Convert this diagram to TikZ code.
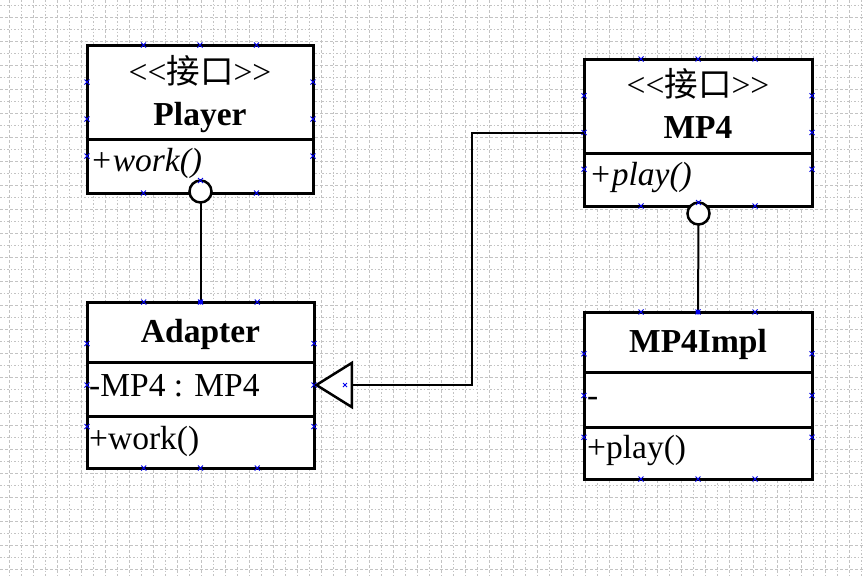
\documentclass[tikz,border=0pt]{standalone}
\usepackage{fontspec}
\setmainfont{Liberation Serif}
\newfontfamily\cjkfont{Noto Sans CJK SC}
\usetikzlibrary{arrows.meta,calc}
\definecolor{gridgray}{RGB}{195,195,195}
\definecolor{handleblue}{RGB}{0,0,235}

\begin{document}
\begin{tikzpicture}[x=1pt,y=-1pt,
  classbox/.style={draw, line width=3pt, fill=white, rectangle, inner sep=0pt, outer sep=0pt},
  divider/.style={line width=3pt},
  ball/.style={draw, circle, line width=2.5pt, fill=white, minimum size=22pt, inner sep=0pt, outer sep=0pt},
  link/.style={line width=2pt},
  txt/.style={inner sep=0pt, font=\fontsize{33.5}{38}\selectfont},
  title/.style={inner sep=0pt, anchor=base, font=\fontsize{33.5}{38}\selectfont\bfseries},
  stereo/.style={txt, anchor=base},
  member/.style={txt, anchor=base west},
  opitalic/.style={member, font=\fontsize{33.5}{38}\selectfont\itshape},
  handle/.style={draw=handleblue, line width=0.8pt},
  gridA/.style={draw=gridgray, line width=1pt, dash pattern=on 3pt off 2pt},
  gridB/.style={draw=gridgray, line width=1pt, dash pattern=on 1.5pt off 2pt},
]
\useasboundingbox (0,0) rectangle (863,576);
\fill[white] (0,0) rectangle (863,576);

% background grid
\foreach \k in {0,...,35} {
  \draw[gridA] ({9+24*\k},0) -- ++(0,576);
  \draw[gridB] ({21+24*\k},0) -- ++(0,576);
}
\foreach \k in {0,...,23} {
  \draw[gridB] (0,{5.5+24*\k}) -- ++(863,0);
  \draw[gridA] (0,{17.5+24*\k}) -- ++(863,0);
}

% class boxes
\node[classbox, minimum width=226pt, minimum height=148pt] (player)  at (200,119) {};
\node[classbox, minimum width=227pt, minimum height=166pt] (adapter) at (200.5,385) {};
\node[classbox, minimum width=228pt, minimum height=147pt] (mp4)     at (698,132.5) {};
\node[classbox, minimum width=228pt, minimum height=167pt] (mp4impl) at (698,395.5) {};

% compartment dividers
\draw[divider] (player.west |- 0,139) -- (player.east |- 0,139);
\draw[divider] (adapter.west |- 0,362) -- (adapter.east |- 0,362);
\draw[divider] (adapter.west |- 0,416) -- (adapter.east |- 0,416);
\draw[divider] (mp4.west |- 0,153) -- (mp4.east |- 0,153);
\draw[divider] (mp4impl.west |- 0,372) -- (mp4impl.east |- 0,372);
\draw[divider] (mp4impl.west |- 0,427) -- (mp4impl.east |- 0,427);

% texts
\node[stereo] (playerst) at (200,83) {{<}{<}{\cjkfont 接口}{>}{>}};
\node[title] (playername) at (200,125) {Player};
\node[opitalic] (playerop) at (90,171) {+work()};

\node[title] (adaptername) at (200.5,342) {Adapter};
\node[member] (adapterattr) at (89,396) {-MP4 : MP4};
\node[member] (adapterop) at (89,449) {+work()};

\node[stereo] (mp4st) at (698,96) {{<}{<}{\cjkfont 接口}{>}{>}};
\node[title] (mp4name) at (698,138) {MP4};
\node[opitalic] (mp4op) at (589,185) {+play()};

\node[title] (implname) at (698,352) {MP4Impl};
\node[member] (implattr) at (587,406) {-};
\node[member] (implop) at (587,458) {+play()};

% selection handles on the boxes
\foreach \n in {player,adapter,mp4,mp4impl} {
  \foreach \t in {0.25,0.5,0.75} {
    \foreach \a/\b in {north west/north east, south west/south east, north west/south west, north east/south east} {
      \path ($(\n.\a)!\t!(\n.\b)$) coordinate (h);
      \draw[handle] (h) +(-2.5,-2.5) -- +(2.5,2.5) (h) +(-2.5,2.5) -- +(2.5,-2.5);
    }
  }
}

% provided interfaces (lollipops)
\node[ball] (playerball) at (200.5,191.5) {};
\node[ball] (mp4ball) at (698.5,213.5) {};
\draw[link] (playerball.south) -- (adapter.north);
\draw[link] (mp4ball.south) -- (mp4impl.north);
\foreach \n in {playerball,mp4ball}
  \draw[handle] (\n.north) +(-2.5,-2.5) -- +(2.5,2.5) (\n.north) +(-2.5,2.5) -- +(2.5,-2.5);
\fill[handleblue] (adapter.north) circle (2.5pt);
\fill[handleblue] (mp4impl.north) circle (2.5pt);

% realization MP4 -> Adapter
\coordinate (elbow) at (472,385);
\draw[link, -{Triangle[length=39pt, width=48pt, line width=2.5pt, fill=white]}]
  (mp4.west) -| (elbow) -- (adapter.east);
\coordinate (tricenter) at (345,385);
\draw[handle] (tricenter) +(-2,-2) -- +(2,2) (tricenter) +(-2,2) -- +(2,-2);
\end{tikzpicture}
\end{document}
